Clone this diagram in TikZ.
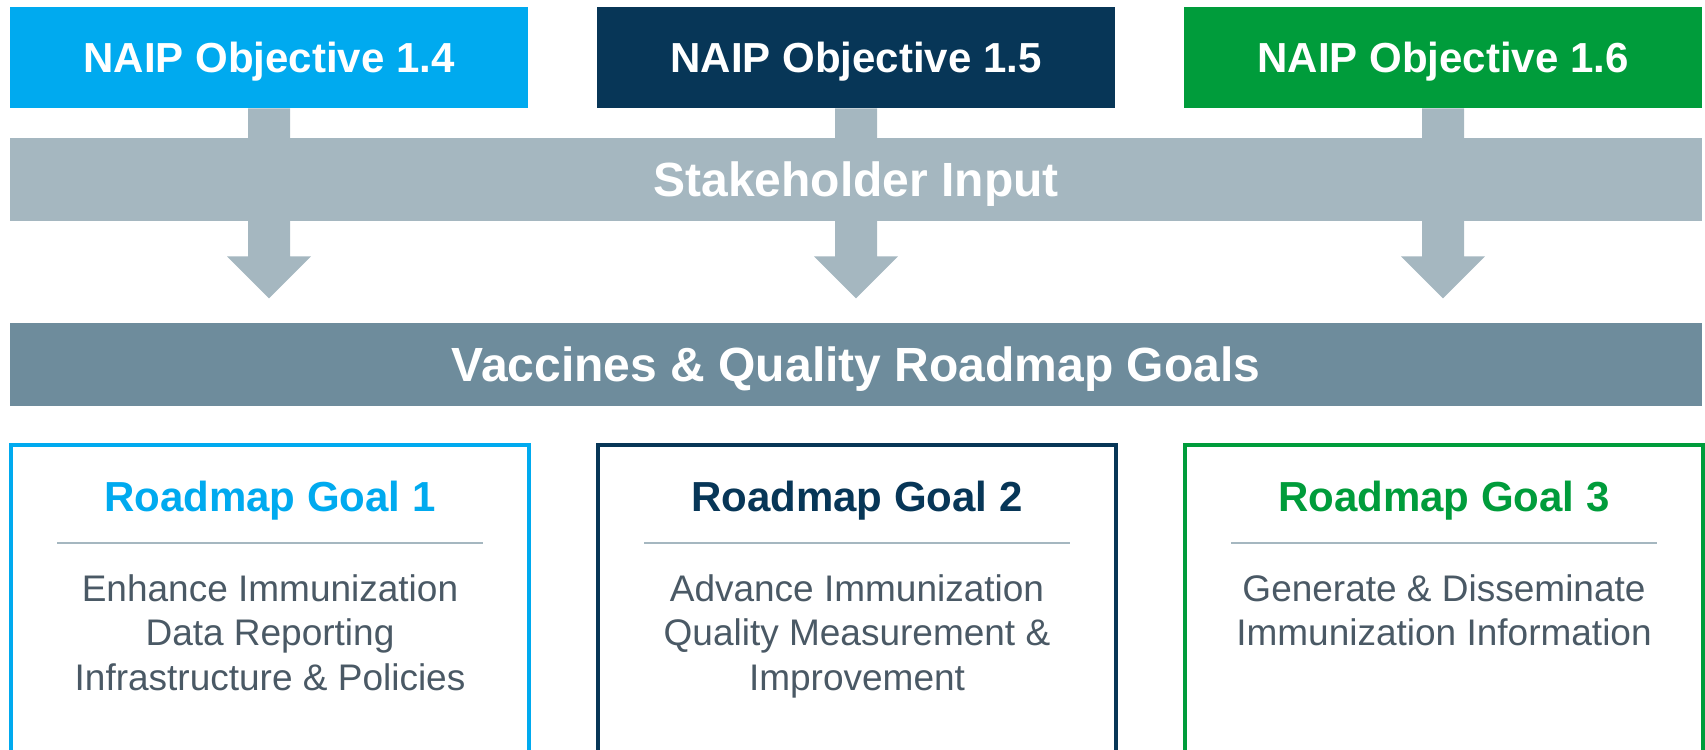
\documentclass[tikz,border=0pt]{standalone}
\usepackage{fontspec}
\setmainfont{Liberation Sans}
\usetikzlibrary{calc}
\definecolor{naipblue}{RGB}{0,170,239}
\definecolor{naipnavy}{RGB}{7,54,87}
\definecolor{naipgreen}{RGB}{0,156,59}
\definecolor{inputgray}{RGB}{165,183,192}
\definecolor{roadmapgray}{RGB}{110,140,156}
\definecolor{bodytext}{RGB}{74,89,101}
\tikzset{
    objbox/.style={rectangle, minimum width=259pt, minimum height=50.5pt, inner sep=0pt, text depth=0pt, text=white, font=\bfseries\fontsize{21}{25}\selectfont},
    bandbox/.style={rectangle, minimum width=846pt, minimum height=41.5pt, inner sep=0pt, text depth=0pt, text=white, font=\bfseries\fontsize{24}{28}\selectfont},
    goalbox/.style={rectangle, draw=#1, line width=2pt, fill=white, minimum width=259pt, minimum height=162.5pt, inner sep=0pt},
    goaltitle/.style={inner sep=0pt, anchor=base, text=#1, font=\bfseries\fontsize{21}{25}\selectfont},
    goalbody/.style={inner sep=0pt, anchor=north, align=center, text=bodytext, font=\fontsize{18.5}{22.25}\selectfont},
    divider/.style={inputgray, line width=1.25pt},
}

\begin{document}
\begin{tikzpicture}[x=0.5pt, y=-0.5pt]

\clip (0,0) rectangle (1705,750);

% NAIP objectives
\node[objbox, fill=naipblue] (obj14) at (269,57.5) {NAIP Objective 1.4};
\node[objbox, fill=naipnavy] (obj15) at (856,57.5) {NAIP Objective 1.5};
\node[objbox, fill=naipgreen] (obj16) at (1443,57.5) {NAIP Objective 1.6};

% Block arrows (behind the input band)
\fill[inputgray] ($(obj14.south)+(-21,0)$) |- ($(obj14.south)+(-42,148)$) -- ($(obj14.south)+(0,190)$) -- ($(obj14.south)+(42,148)$) -| ($(obj14.south)+(21,0)$) -- cycle;
\fill[inputgray] ($(obj15.south)+(-21,0)$) |- ($(obj15.south)+(-42,148)$) -- ($(obj15.south)+(0,190)$) -- ($(obj15.south)+(42,148)$) -| ($(obj15.south)+(21,0)$) -- cycle;
\fill[inputgray] ($(obj16.south)+(-21,0)$) |- ($(obj16.south)+(-42,148)$) -- ($(obj16.south)+(0,190)$) -- ($(obj16.south)+(42,148)$) -| ($(obj16.south)+(21,0)$) -- cycle;

% Bands
\node[bandbox, fill=inputgray] (stakeholder) at (856,179.5) {Stakeholder Input};
\node[bandbox, fill=roadmapgray] (roadmap) at (856,364.5) {Vaccines \& Quality Roadmap Goals};

% Goal 1
\node[goalbox=naipblue] (goal1) at (270,607.5) {};
\node[goaltitle=naipblue] (goal1-title) at ([yshift=-34pt]goal1.north) {Roadmap Goal 1};
\draw[divider] ([xshift=-106.5pt, yshift=-50pt]goal1.north) -- ([xshift=106.5pt, yshift=-50pt]goal1.north);
\node[goalbody] (goal1-body) at ([yshift=-65.5pt]goal1.north) {Enhance Immunization\\Data Reporting\\Infrastructure \& Policies};

% Goal 2
\node[goalbox=naipnavy] (goal2) at (857,607.5) {};
\node[goaltitle=naipnavy] (goal2-title) at ([yshift=-34pt]goal2.north) {Roadmap Goal 2};
\draw[divider] ([xshift=-106.5pt, yshift=-50pt]goal2.north) -- ([xshift=106.5pt, yshift=-50pt]goal2.north);
\node[goalbody] (goal2-body) at ([yshift=-65.5pt]goal2.north) {Advance Immunization\\Quality Measurement \&\\Improvement};

% Goal 3
\node[goalbox=naipgreen] (goal3) at (1444,607.5) {};
\node[goaltitle=naipgreen] (goal3-title) at ([yshift=-34pt]goal3.north) {Roadmap Goal 3};
\draw[divider] ([xshift=-106.5pt, yshift=-50pt]goal3.north) -- ([xshift=106.5pt, yshift=-50pt]goal3.north);
\node[goalbody] (goal3-body) at ([yshift=-65.5pt]goal3.north) {Generate \& Disseminate\\Immunization Information};

\end{tikzpicture}
\end{document}
